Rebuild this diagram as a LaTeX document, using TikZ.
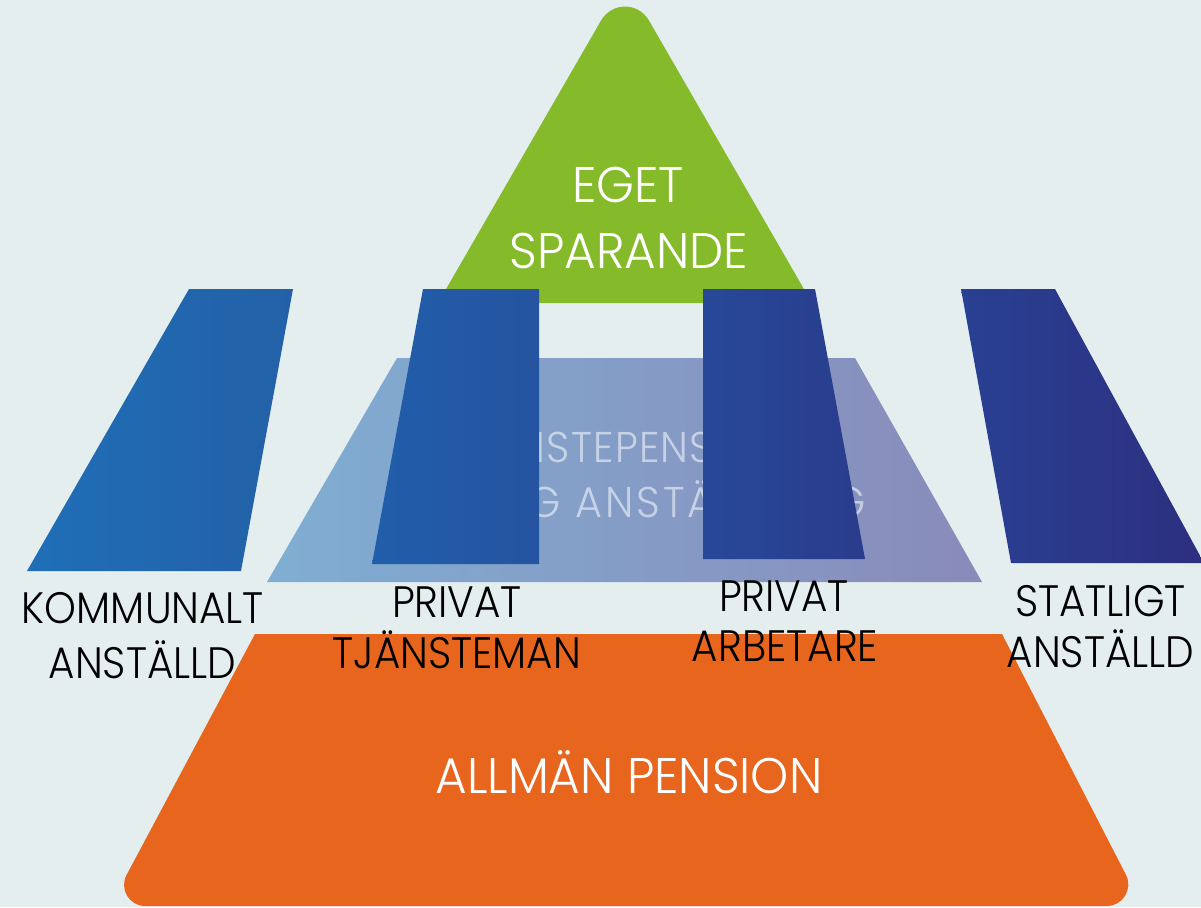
\documentclass[tikz,border=0pt]{standalone}
\usepackage{fontspec}
\setmainfont{Poppins Light}[FakeStretch=0.92]
\newfontfamily\whitefont{Poppins Light}[FakeStretch=0.97]
\newfontfamily\midfont{Poppins Light}[FakeStretch=0.96,LetterSpace=7]
\newfontfamily\midfontA{Poppins Light}[FakeStretch=0.94,LetterSpace=3]
\definecolor{bg}{RGB}{228,238,239}
\definecolor{grn}{RGB}{133,187,42}
\definecolor{org}{RGB}{232,101,30}
\definecolor{midL}{RGB}{128,174,211}
\definecolor{midR}{RGB}{137,139,186}
\definecolor{b1L}{RGB}{31,111,183}
\definecolor{b1R}{RGB}{35,96,167}
\definecolor{b2L}{RGB}{33,94,170}
\definecolor{b2R}{RGB}{37,84,160}
\definecolor{b3L}{RGB}{39,72,152}
\definecolor{b3R}{RGB}{42,60,140}
\definecolor{b4L}{RGB}{41,64,147}
\definecolor{b4R}{RGB}{45,47,127}
\tikzset{
  lbl/.style={anchor=base, text=black, inner sep=0pt, font=\fontsize{44}{50}\selectfont},
  wlbl/.style={anchor=base, text=white, inner sep=0pt, font=\whitefont\fontsize{50}{56}\selectfont},
  midlbl/.style={text=white, text opacity=0.55, inner sep=0pt, font=\midfont\fontsize{43}{48}\selectfont},
  midlblA/.style={text=white, text opacity=0.55, inner sep=0pt, font=\midfontA\fontsize{43}{48}\selectfont}
}
\begin{document}
\begin{tikzpicture}[x=1pt,y=-1pt]
\useasboundingbox (0,0) rectangle (1201,907);
\fill[bg] (0,0) rectangle (1201,907);
% orange base
\fill[org] (255,634) -- (1002,634) -- (1126,874.9)
  .. controls (1133.2,888.9) and (1122.75,906) .. (1107,906)
  -- (145,906) .. controls (129.25,906) and (119.1,889) .. (126.5,875.1) -- cycle;
% green top
\fill[grn] (438,303) -- (601,20.6) .. controls (611.8,1.9) and (638.2,1.9) .. (649,20.6) -- (812,303) -- cycle;
% middle trapezoid
\shade[left color=midL, right color=midR] (397,358) -- (855,358) -- (982,582) -- (267,582) -- cycle;
\node[midlblA, anchor=base] (t1) at (616,462) {TJÄNSTEPENSION};
\node[midlbl, anchor=base east] (t2) at (866,517) {G ANSTÄLLNING};
% bars
\shade[left color=b1L, right color=b1R] (189,289) -- (293,289) -- (241,571) -- (27,571) -- cycle;
\shade[left color=b2L, right color=b2R] (423,289) -- (539,289) -- (539,564) -- (372,564) -- cycle;
\shade[left color=b3L, right color=b3R] (703,289) -- (815,289) -- (865,559) -- (703,559) -- cycle;
\shade[left color=b4L, right color=b4R] (961,289) -- (1055,289) -- (1204,563) -- (1011,563) -- cycle;
% labels
\node[wlbl] (eget) at (628,202) {EGET};
\node[wlbl] (spar) at (629,268) {SPARANDE};
\node[wlbl] (allm) at (629,793) {ALLMÄN PENSION};
\node[lbl] (k1) at (143,623) {KOMMUNALT};
\node[lbl] (k2) at (142.5,678) {ANSTÄLLD};
\node[lbl] (p1) at (457,617) {PRIVAT};
\node[lbl] (p2) at (457,668) {TJÄNSTEMAN};
\node[lbl] (a1) at (784,611) {PRIVAT};
\node[lbl] (a2) at (785,661) {ARBETARE};
\node[lbl] (s1) at (1100.5,616) {STATLIGT};
\node[lbl] (s2) at (1100.5,667) {ANSTÄLLD};
\end{tikzpicture}
\end{document}
